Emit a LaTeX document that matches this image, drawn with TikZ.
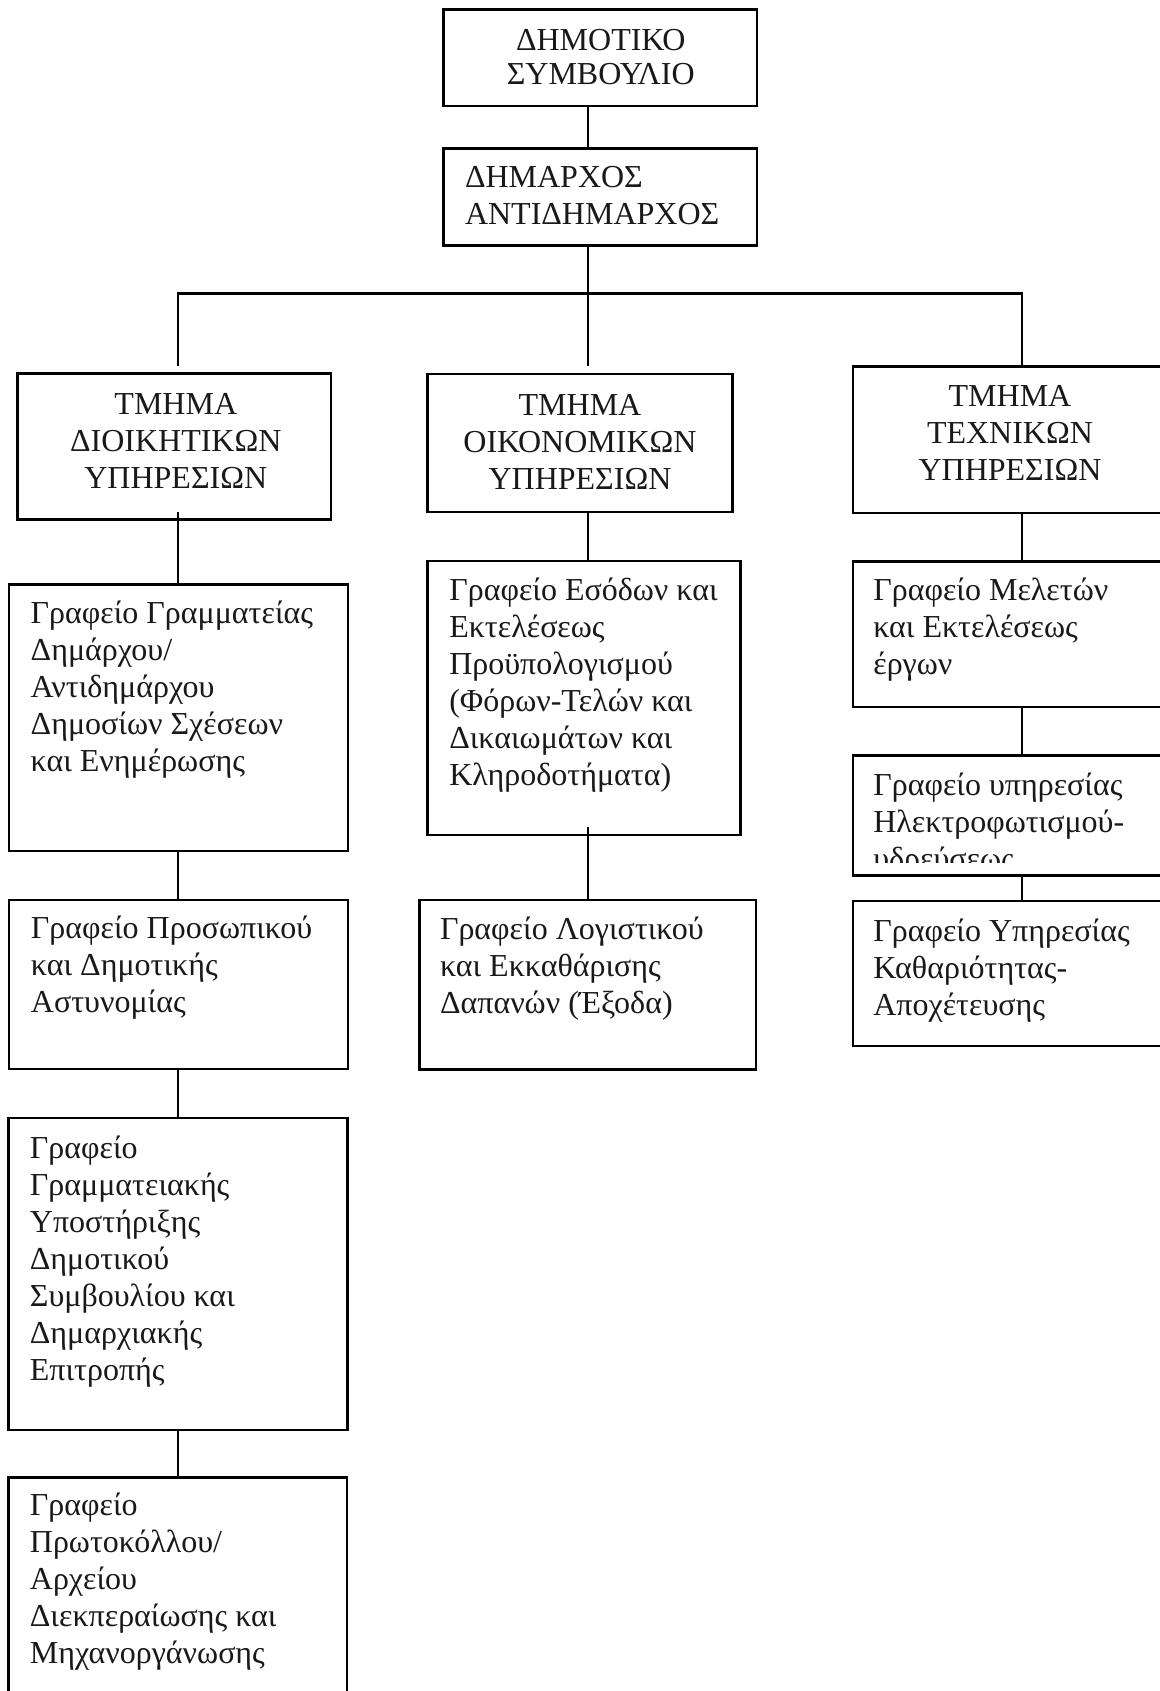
\documentclass[tikz,border=0pt]{standalone}
\usepackage{fontspec}
\setmainfont{Liberation Serif}
\usetikzlibrary{calc}

% invisible strut fixing the height of the first line of each label
\newcommand\firstline{\rule{0pt}{13pt}}
% \orgbox{name}{x1}{y1}{x2}{y2}: framed box given by its corners (pixel units, y down)
\newcommand\orgbox[5]{%
  \node[orgbox, anchor=north west,
        minimum width={(#4-#2)*0.5pt}, minimum height={(#5-#3)*0.5pt}]
        (#1) at (#2,#3) {};}

\tikzset{
  orgbox/.style={draw=black, line width=1.1pt, inner sep=0pt, outer sep=0pt, fill=none},
  link/.style={draw=black, line width=1.1pt},
  lbl/.style={inner sep=0pt, outer sep=0pt, align=left, anchor=north west,
              font=\fontsize{16pt}{18.5pt}\selectfont, text=black!90},
  caps/.style={inner sep=0pt, outer sep=0pt, align=center, anchor=north,
               font=\fontsize{16pt}{18.5pt}\selectfont, text=black!90},
}

\begin{document}
\begin{tikzpicture}[x=0.5pt,y=-0.5pt]
  \fill[white] (0,0) rectangle (1160,1691);
  \clip (0,0) rectangle (1160,1691);

  % columns of the vertical links and level of the branching bar
  \coordinate (xl) at (178,0);
  \coordinate (xm) at (588,0);
  \coordinate (xr) at (1021.7,0);
  \coordinate (bar) at (0,293.5);

  % boxes
  \orgbox{a}{443.5}{9.5}{757}{106}
  \orgbox{b}{443.5}{148.5}{757}{245.5}
  \orgbox{c1}{17.5}{373.5}{331}{519.5}
  \orgbox{c2}{427.5}{374}{732.5}{512}
  \orgbox{c3}{852.7}{366.5}{1170}{513}
  \orgbox{d1}{9}{584.5}{347.7}{850.7}
  \orgbox{d2}{427.5}{560.7}{740.5}{835}
  \orgbox{d3}{852.7}{561.5}{1170}{706.8}
  \orgbox{e1}{9}{899.6}{347.7}{1069.3}
  \orgbox{e2}{419.5}{900}{756}{1069.5}
  \orgbox{e3a}{852.7}{755.4}{1170}{875.5}
  \orgbox{e3b}{852.7}{901}{1170}{1046}
  \orgbox{f1}{8.5}{1117.8}{347.5}{1429.6}
  \orgbox{g1}{8.5}{1477.5}{347}{1730}

  % labels
  \node[caps, font=\fontsize{16pt}{17.2pt}\selectfont] (at) at ($(a.north)+(0.5,15)$)
    {\firstline ΔΗΜΟΤΙΚΟ\\ΣΥΜΒΟΥΛΙΟ};
  \node[lbl, font=\fontsize{16pt}{18.8pt}\selectfont] (bt) at ($(b.north west)+(21.5,12.8)$)
    {\firstline ΔΗΜΑΡΧΟΣ\\ΑΝΤΙΔΗΜΑΡΧΟΣ};
  \node[caps] (c1t) at ($(c1.north west)+(158.3,14.5)$)
    {\firstline ΤΜΗΜΑ\\ΔΙΟΙΚΗΤΙΚΩΝ\\ΥΠΗΡΕΣΙΩΝ};
  \node[caps] (c2t) at ($(c2.north west)+(152.5,15)$)
    {\firstline ΤΜΗΜΑ\\ΟΙΚΟΝΟΜΙΚΩΝ\\ΥΠΗΡΕΣΙΩΝ};
  \node[caps] (c3t) at ($(c3.north west)+(157.3,14.2)$)
    {\firstline ΤΜΗΜΑ\\ΤΕΧΝΙΚΩΝ\\ΥΠΗΡΕΣΙΩΝ};
  \node[lbl] (d1t) at ($(d1.north west)+(21.7,12.8)$)
    {\firstline Γραφείο Γραμματείας\\Δημάρχου/\\Αντιδημάρχου\\Δημοσίων Σχέσεων\\και Ενημέρωσης};
  \node[lbl] (d2t) at ($(d2.north west)+(21.8,14)$)
    {\firstline Γραφείο Εσόδων και\\Εκτελέσεως\\Προϋπολογισμού\\(Φόρων-Τελών και\\Δικαιωμάτων και\\Κληροδοτήματα)};
  \node[lbl] (d3t) at ($(d3.north west)+(20.6,13.2)$)
    {\firstline Γραφείο Μελετών\\και Εκτελέσεως\\έργων};
  \node[lbl] (e1t) at ($(e1.north west)+(22,12.6)$)
    {\firstline Γραφείο Προσωπικού\\και Δημοτικής\\Αστυνομίας};
  \node[lbl] (e2t) at ($(e2.north west)+(20.5,13.3)$)
    {\firstline Γραφείο Λογιστικού\\και Εκκαθάρισης\\Δαπανών (Έξοδα)};
  \begin{scope}
    % the last line of this box is cut off by the frame
    \clip (e3a.north west) rectangle (1170,862);
    \node[lbl] (e3at) at ($(e3a.north west)+(20.6,13.6)$)
      {\firstline Γραφείο υπηρεσίας\\Ηλεκτροφωτισμού-\\υδρεύσεως};
  \end{scope}
  \node[lbl] (e3bt) at ($(e3b.north west)+(20.6,14.7)$)
    {\firstline Γραφείο Υπηρεσίας\\Καθαριότητας-\\Αποχέτευσης};
  \node[lbl] (f1t) at ($(f1.north west)+(21.4,14.2)$)
    {\firstline Γραφείο\\Γραμματειακής\\Υποστήριξης\\Δημοτικού\\Συμβουλίου και\\Δημαρχιακής\\Επιτροπής};
  \node[lbl] (g1t) at ($(g1.north west)+(21.4,12.2)$)
    {\firstline Γραφείο\\Πρωτοκόλλου/\\Αρχείου\\Διεκπεραίωσης και\\Μηχανοργάνωσης};

  % links
  \draw[link] (a.south -| xm) -- (b.north -| xm);
  \draw[link, shorten >=4pt] (b.south -| xm) -- (c2.north -| xm);
  \draw[link, shorten <=4pt] (c1.north -| xl) |- (bar -| xr) -- (c3.north -| xr);
  \draw[link, shorten <=-4pt] (c1.south -| xl) -- (d1.north -| xl);
  \draw[link] (d1.south -| xl) -- (e1.north -| xl);
  \draw[link] (e1.south -| xl) -- (f1.north -| xl);
  \draw[link] (f1.south -| xl) -- (g1.north -| xl);
  \draw[link] (c2.south -| xm) -- (d2.north -| xm);
  \draw[link, shorten <=-4pt] (d2.south -| xm) -- (e2.north -| xm);
  \draw[link] (c3.south -| xr) -- (d3.north -| xr);
  \draw[link] (d3.south -| xr) -- (e3a.north -| xr);
  \draw[link] (e3a.south -| xr) -- (e3b.north -| xr);
\end{tikzpicture}
\end{document}
